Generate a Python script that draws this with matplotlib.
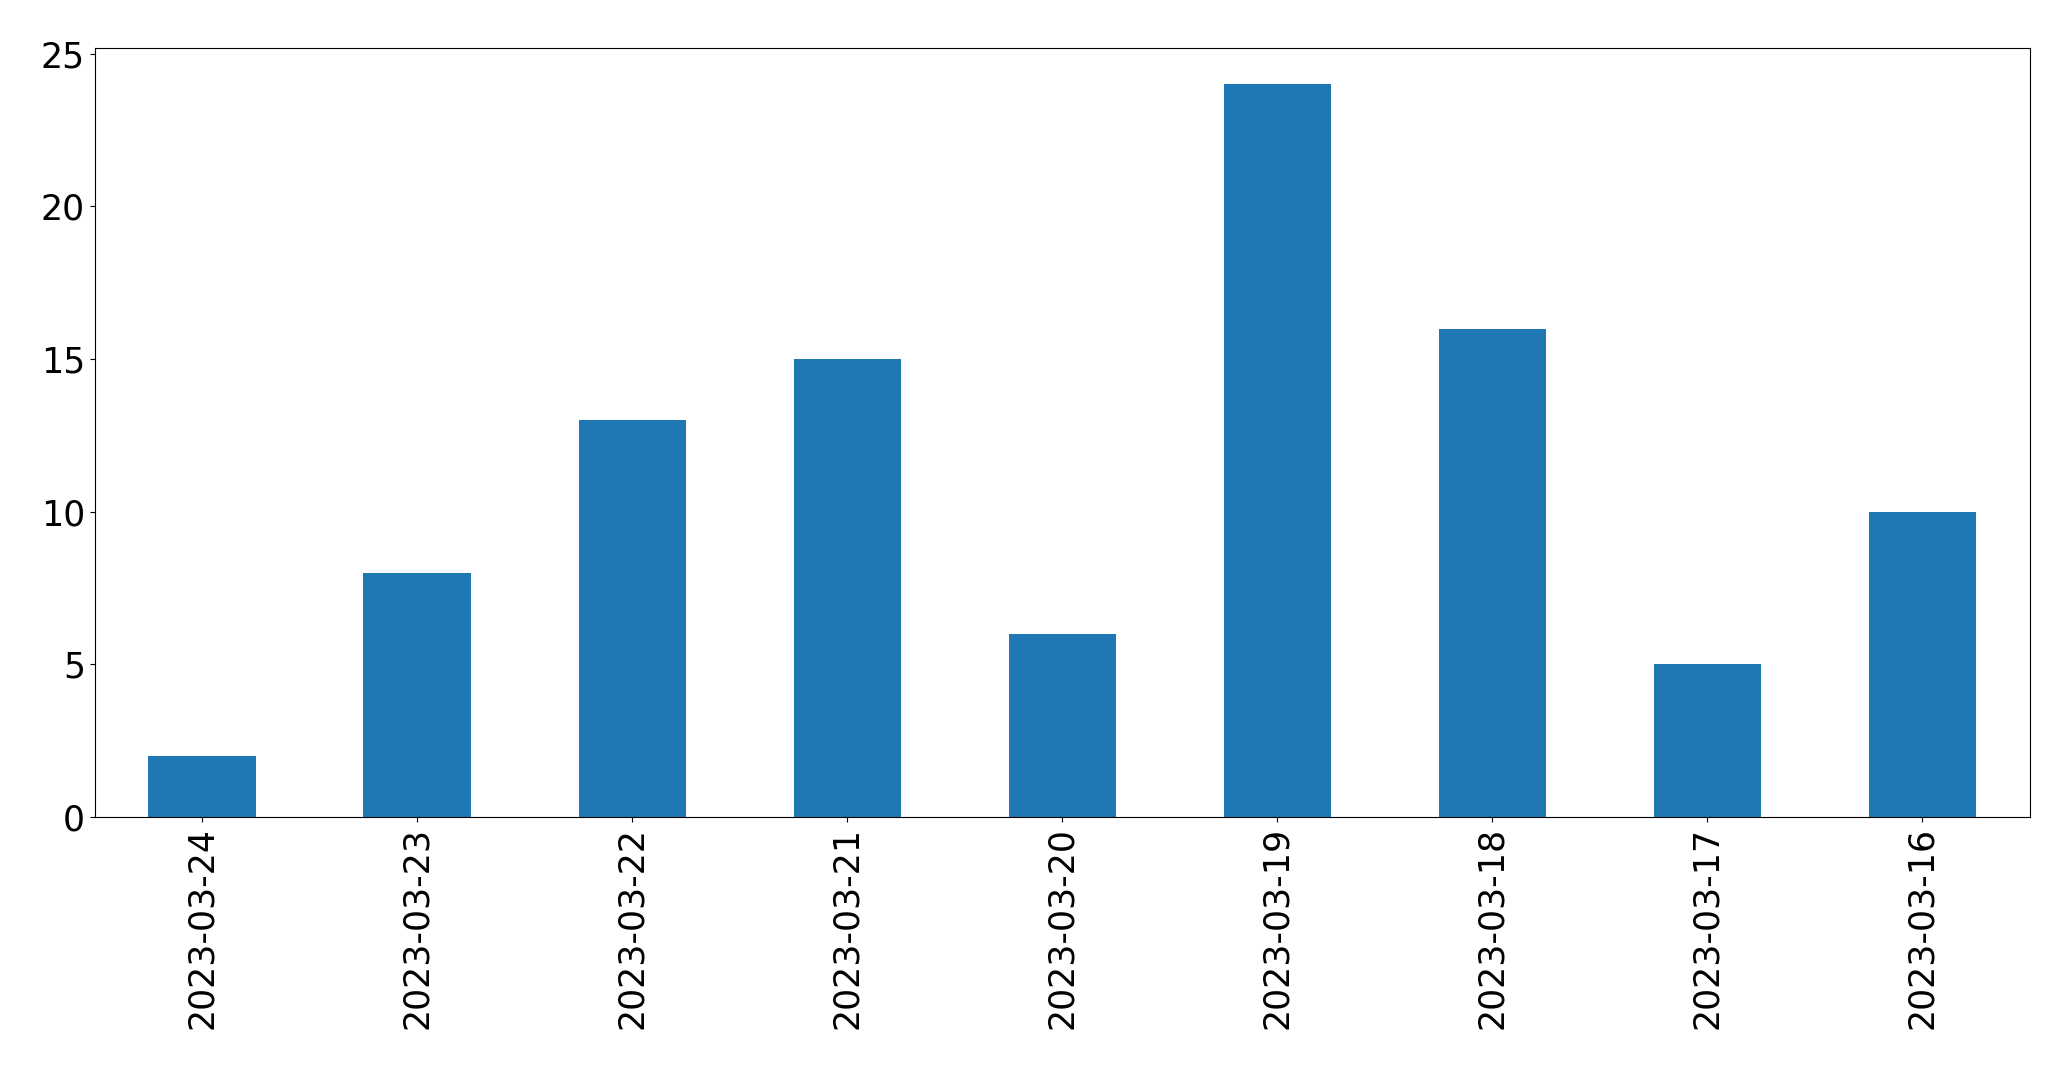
import matplotlib
matplotlib.use("Agg")
import matplotlib.pyplot as plt

dates = ["2023-03-24", "2023-03-23", "2023-03-22", "2023-03-21", "2023-03-20",
         "2023-03-19", "2023-03-18", "2023-03-17", "2023-03-16"]
counts = [2, 8, 13, 15, 6, 24, 16, 5, 10]

fig = plt.figure(figsize=(20.71, 10.69), dpi=100)
ax = fig.add_axes([94.7 / 2071, 1 - 817 / 1069, (2030 - 94.7) / 2071, (817 - 47.7) / 1069])
x = list(range(len(dates)))
ax.bar(x, counts, width=0.5, color="#1f77b4")
ax.set_xlim(-0.5, len(dates) - 0.5)
ax.set_ylim(0, max(counts) * 1.05)
ax.set_xticks(x)
ax.set_xticklabels(dates, rotation=90)
ax.set_yticks([0, 5, 10, 15, 20, 25])
ax.tick_params(labelsize=25)
fig.savefig("out.png", dpi=100)
